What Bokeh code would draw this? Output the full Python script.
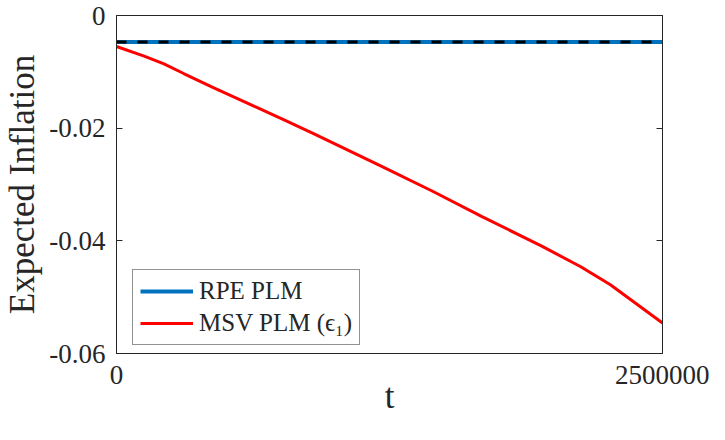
from bokeh.plotting import figure
from bokeh.models import (FixedTicker, CustomJSTickFormatter, Legend, LegendItem,
                          LinearAxis, Range1d)
from bokeh.embed import file_html
from bokeh.resources import INLINE

# Data
t_rpe = [0, 2500000]
rpe = [-0.0047, -0.0047]
t_ref = [0, 2500000]
ref = [-0.0047, -0.0047]
t_msv = [0, 126600, 217100, 307600, 443300, 624200, 759900, 904600, 1221200,
         1447400, 1673500, 1944900, 2125800, 2261500, 2500000]
msv = [-0.0055, -0.0072, -0.0086, -0.0103, -0.0128, -0.0160, -0.0184, -0.0210,
       -0.0269, -0.0312, -0.0357, -0.0409, -0.0446, -0.0478, -0.0546]
y_ticks = [-0.06, -0.04, -0.02, 0]
x_ticks = [0, 2500000]
x_title = "t"
y_title = "Expected Inflation"

FONT = "Liberation Serif, Tinos, Times New Roman, DejaVu Serif, serif"
AX = "#262626"

p = figure(width=709, height=424, output_backend="svg", toolbar_location=None,
           x_range=Range1d(0, 2500000), y_range=Range1d(-0.06, 0),
           min_border_left=112, min_border_right=47, min_border_top=15,
           min_border_bottom=71)
p.xgrid.visible = False
p.ygrid.visible = False
p.outline_line_color = AX
p.outline_line_width = 1
p.outline_line_alpha = 1

r_blue = p.line(t_rpe, rpe, line_color="#0072BD", line_width=4)
p.line(t_ref, ref, line_color="black", line_width=3, line_dash="10 11")
r_red = p.line(t_msv, msv, line_color="#FF0000", line_width=3)

fmt_y = CustomJSTickFormatter(code="return Math.abs(tick) < 1e-12 ? '0' : tick.toFixed(2);")
fmt_x = CustomJSTickFormatter(code="return tick.toFixed(0);")

for ax in [p.xaxis[0], p.yaxis[0]]:
    ax.axis_line_color = AX
    ax.major_tick_line_color = AX
    ax.major_tick_in = 6
    ax.major_tick_out = 0
    ax.minor_tick_line_color = None
    ax.major_label_text_font = FONT
    ax.major_label_text_font_size = "27px"
    ax.major_label_text_color = AX
    ax.axis_label_text_font = FONT
    ax.axis_label_text_font_size = "35px"
    ax.axis_label_text_font_style = "normal"
    ax.axis_label_text_color = AX

p.xaxis[0].ticker = FixedTicker(ticks=x_ticks)
p.xaxis[0].formatter = fmt_x
p.xaxis[0].axis_label = x_title
p.xaxis[0].major_label_standoff = 12
p.xaxis[0].axis_label_standoff = -10

p.yaxis[0].ticker = FixedTicker(ticks=y_ticks)
p.yaxis[0].formatter = fmt_y
p.yaxis[0].axis_label = y_title
p.yaxis[0].major_label_standoff = 11
p.yaxis[0].axis_label_standoff = 4

right = LinearAxis(ticker=FixedTicker(ticks=y_ticks), major_label_text_alpha=0,
                   major_label_text_font_size="1px", major_label_standoff=0,
                   axis_line_color=AX, major_tick_line_color=AX,
                   major_tick_in=6, major_tick_out=0, minor_tick_line_color=None)
p.add_layout(right, "right")

legend = Legend(items=[LegendItem(label="RPE PLM", renderers=[r_blue]),
                       LegendItem(label="MSV PLM (\u03f5\u2081)", renderers=[r_red])],
                location=(16, 8), orientation="vertical",
                label_text_font=FONT, label_text_font_size="25px",
                label_text_color=AX,
                glyph_width=53, glyph_height=26, label_standoff=6,
                padding=7, spacing=4, margin=0,
                border_line_color=AX, border_line_width=1,
                background_fill_color="white", background_fill_alpha=1)
p.add_layout(legend, "center")

open("out.html", "w").write(file_html(p, INLINE))
